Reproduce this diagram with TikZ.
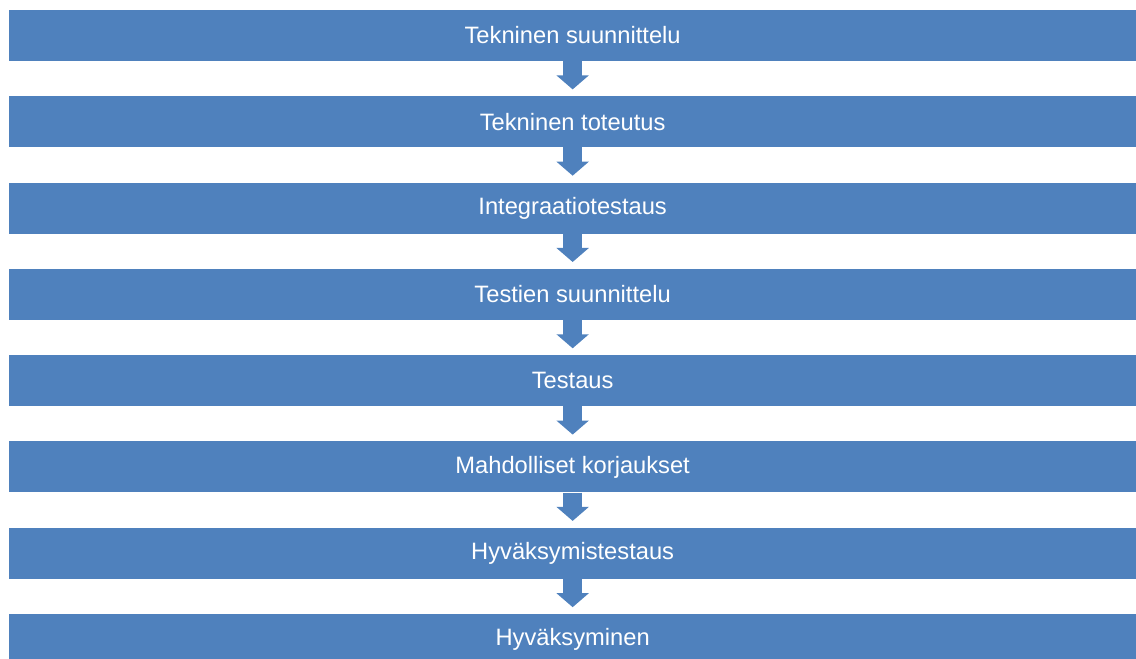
\documentclass[tikz,border=0pt]{standalone}
\usepackage{fontspec}
\setmainfont{Liberation Sans}
\usetikzlibrary{arrows.meta}
\definecolor{stepblue}{HTML}{4F81BD}
\begin{document}
\begin{tikzpicture}[x=1pt,y=1pt,
  stepbox/.style={fill=stepblue, draw=none, minimum width=1126.7pt, minimum height=51pt,
    inner sep=0pt, text=white, font=\fontsize{23.7}{28}\selectfont},
  flow/.style={draw=stepblue, line width=19.3pt,
    -{Triangle[width=31.6pt,length=14pt]}, shorten >=6.7pt}]
\useasboundingbox (0,0) rectangle (1136,659);
\clip (0,0) rectangle (1136,659);
\foreach \name/\txt [count=\i from 0] in {
  s0/Tekninen suunnittelu,
  s1/Tekninen toteutus,
  s2/Integraatiotestaus,
  s3/Testien suunnittelu,
  s4/Testaus,
  s5/Mahdolliset korjaukset,
  s6/Hyväksymistestaus,
  s7/Hyväksyminen}
  \node[stepbox] (\name) at (572.65, {659-35.5-86.3*\i}) {\txt};
\foreach \a/\b in {s0/s1,s1/s2,s2/s3,s3/s4,s4/s5,s5/s6,s6/s7}
  \draw[flow] (\a.south) -- (\b.north);
\end{tikzpicture}
\end{document}
